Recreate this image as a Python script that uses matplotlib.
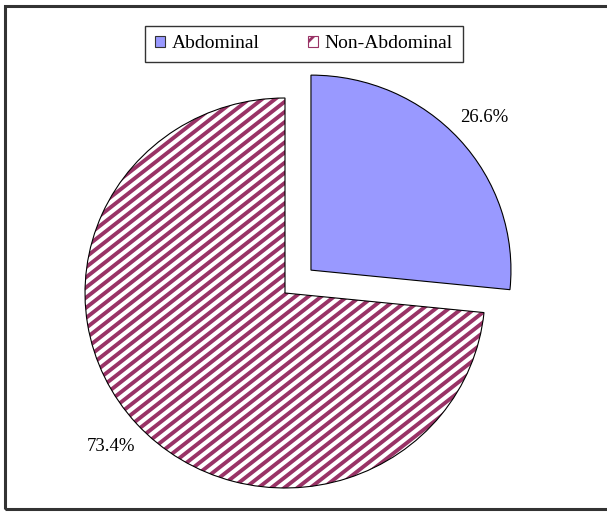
import numpy as np
import matplotlib.pyplot as plt
from matplotlib.patches import Rectangle, Patch
from matplotlib.collections import LineCollection
from matplotlib.transforms import IdentityTransform

categories = ["Abdominal", "Non-Abdominal"]
shares = [26.6, 73.4]
colors = ["#9999FF", "#993366"]

plt.rcParams['font.family'] = ['Liberation Serif', 'DejaVu Serif']
plt.rcParams['hatch.linewidth'] = 2.0

W, H = 607, 512
fig = plt.figure(figsize=(W / 100, H / 100), dpi=100)

# outer frame of the picture
fig.patches.append(Rectangle((5 / W, 3 / H), 1.05, 503 / H, transform=fig.transFigure,
                             fill=False, edgecolor="#333333", linewidth=2.2))

# pie is slightly squashed in the original: 200 px wide radius, 195 px tall
rx, ry = 200, 195
cx, cy = 285, H - 293
span = 1.5
ax = fig.add_axes([(cx - span * rx) / W, (cy - span * ry) / H,
                   2 * span * rx / W, 2 * span * ry / H])

explode = [0.175, 0.0]
wedges, _, autotexts = ax.pie(shares, explode=explode, startangle=90, counterclock=False,
                              colors=[colors[0], "none"], autopct="%.1f%%", pctdistance=1.17,
                              wedgeprops=dict(linewidth=0.8, edgecolor="black"),
                              textprops=dict(fontsize=13.5), normalize=True)
for w in wedges:
    w.set_zorder(2)

# stripe pattern (shallower than 45 degrees, like the original) clipped to the second wedge
theta = np.deg2rad(38)
u = np.array([np.cos(theta), np.sin(theta)])
n = np.array([-np.sin(theta), np.cos(theta)])
segs = []
for d in np.arange(-900, 900, 8.0):
    p0 = d * n
    segs.append([p0 - 1500 * u, p0 + 1500 * u])
stripes = LineCollection(segs, colors=colors[1], linewidths=2.8, transform=IdentityTransform(),
                         zorder=1)
ax.add_collection(stripes, autolim=False)
stripes.set_clip_path(wedges[1])

ax.set_aspect("auto")
ax.set_xlim(-span, span)
ax.set_ylim(-span, span)
ax.axis("off")

handles = [Patch(facecolor=colors[0], edgecolor="#333333", linewidth=0.8),
           Patch(facecolor="white", edgecolor=colors[1], linewidth=0.8, hatch="//")]
leg = fig.legend(handles, categories, loc="center", bbox_to_anchor=(304 / W, 1 - 44 / H),
                 ncol=2, frameon=True, fancybox=False, fontsize=14, handlelength=0.5,
                 handleheight=0.5, columnspacing=2.5, handletextpad=0.35,
                 borderpad=0.5, borderaxespad=0, edgecolor="black")
leg.get_frame().set_linewidth(1.0)

fig.savefig("out.png", dpi=100)
